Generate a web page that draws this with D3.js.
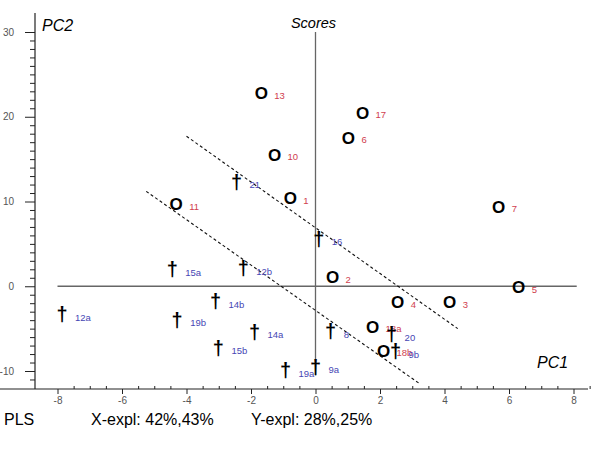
<!DOCTYPE html>
<html><head><meta charset="utf-8">
<script src="https://cdnjs.cloudflare.com/ajax/libs/d3/7.8.5/d3.min.js"></script>
<style>
html,body{margin:0;padding:0;background:#fff;}
svg{display:block;font-family:"Liberation Sans",Arial,sans-serif;}
</style></head>
<body>
<svg id="chart" width="600" height="450"></svg>
<script>
// ---- data ----
const xTicks = [-8, -6, -4, -2, 0, 2, 4, 6, 8];
const yTicks = [-10, 0, 10, 20, 30];

const circleIds = ["13", "17", "6", "10", "1", "11", "7", "2", "4", "3", "5", "18a", "18b"];
const circleX   = [-1.68, 1.46, 1.02, -1.27, -0.78, -4.32, 5.68, 0.53, 2.55, 4.16, 6.30, 1.77, 2.11];
const circleY   = [22.8, 20.5, 17.5, 15.5, 10.4, 9.7, 9.4, 1.06, -1.9, -1.9, -0.1, -4.8, -7.6];

const crossIds = ["21", "16", "15a", "12b", "14b", "12a", "19b", "14a", "15b", "19a", "9a", "8", "20", "9b"];
const crossX   = [-2.45, 0.10, -4.44, -2.24, -3.10, -7.86, -4.29, -1.89, -3.01, -0.93, 0.00, 0.47, 2.36, 2.48];
const crossY   = [12.2, 5.5, 1.9, 2.0, -1.9, -3.4, -4.1, -5.5, -7.4, -10.0, -9.6, -5.4, -5.8, -7.8];

// dashed separating lines [x1, y1, x2, y2] in score units
const dashLineUpper = [-4.0, 17.7, 4.41, -5.0];
const dashLineLower = [-5.25, 11.2, 3.23, -11.5];

const footerTexts = ["PLS", "X-expl: 42%,43%", "Y-expl: 28%,25%"];

// ---- layout ----
const svg = d3.select("#chart");
const x = d3.scaleLinear().domain([-8, 8]).range([57.5, 573.5]);
const y = d3.scaleLinear().domain([-10, 30]).range([371, 32]);
const axisX = 35, axisY = 389;
const fmt = d => String(d);

// left axis
const gl = svg.append("g").attr("transform", `translate(${axisX},0)`);
gl.append("line").attr("x1",0).attr("x2",0).attr("y1",13).attr("y2",axisY).attr("stroke","#222").attr("stroke-width",1.2);
const yMinor = d3.range(-11, 30, 1).filter(v => v % 10 !== 0);
gl.append("g").call(d3.axisLeft(y).tickValues(yMinor).tickSize(5).tickFormat(""))
  .call(s => s.select(".domain").remove()).selectAll("line").attr("stroke","#222");
gl.append("g").call(d3.axisLeft(y).tickValues(yTicks).tickSize(10).tickPadding(11).tickFormat(fmt))
  .call(s => s.select(".domain").remove())
  .call(s => s.selectAll("line").attr("stroke","#222"))
  .call(s => s.selectAll("text").attr("fill","#555").style("font-size","10px").attr("font-family","Liberation Sans, Arial"));

// bottom axis
const gb = svg.append("g").attr("transform", `translate(0,${axisY})`);
gb.append("line").attr("x1",0).attr("x2",588).attr("y1",0).attr("y2",0).attr("stroke","#222").attr("stroke-width",1.2);
const xMinor = d3.range(-7.5, 8.51, 0.5).filter(v => Math.abs(v % 2) > 0.01);
gb.append("g").call(d3.axisTop(x).tickValues(xMinor).tickSize(3).tickFormat(""))
  .call(s => s.select(".domain").remove()).selectAll("line").attr("stroke","#222");
gb.append("g").call(d3.axisBottom(x).tickValues(xTicks).tickSize(5).tickPadding(3).tickFormat(fmt))
  .call(s => s.select(".domain").remove())
  .call(s => s.selectAll("line").attr("stroke","#222"))
  .call(s => s.selectAll("text").attr("fill","#555").style("font-size","10px").attr("font-family","Liberation Sans, Arial"));

// zero lines
svg.append("line").attr("x1", x(-8)).attr("x2", x(8.1)).attr("y1", y(0)).attr("y2", y(0))
  .attr("stroke","#666").attr("stroke-width",1.3);
svg.append("line").attr("x1", x(0)).attr("x2", x(0)).attr("y1", y(30)).attr("y2", y(-10.5))
  .attr("stroke","#666").attr("stroke-width",1.3);

// dashed lines
[dashLineUpper, dashLineLower].forEach(l => {
  svg.append("line").attr("x1", x(l[0])).attr("y1", y(l[1])).attr("x2", x(l[2])).attr("y2", y(l[3]))
    .attr("stroke","#111").attr("stroke-width",1.1).attr("stroke-dasharray","3,2.5");
});

// points
const circles = circleIds.map((id, i) => ({id, x: circleX[i], y: circleY[i]}));
const crosses = crossIds.map((id, i) => ({id, x: crossX[i], y: crossY[i]}));

svg.append("g").selectAll("text").data(circles).join("text")
  .attr("x", d => x(d.x)).attr("y", d => y(d.y)).attr("dy", 6)
  .attr("text-anchor","middle").attr("font-weight","bold").style("font-size","17px")
  .attr("fill","#000").text("O");
svg.append("g").selectAll("text").data(circles).join("text")
  .attr("x", d => x(d.x) + 13).attr("y", d => y(d.y)).attr("dy", 5.5)
  .attr("fill","#d0404e").style("font-size","9.5px").text(d => d.id);

svg.append("g").selectAll("text").data(crosses).join("text")
  .attr("x", d => x(d.x)).attr("y", d => y(d.y)).attr("dy", 6)
  .attr("text-anchor","middle").attr("font-weight","bold").style("font-size","20px")
  .attr("fill","#000").text("\u2020");
svg.append("g").selectAll("text").data(crosses).join("text")
  .attr("x", d => x(d.x) + 13).attr("y", d => y(d.y)).attr("dy", 5.5)
  .attr("fill","#4646b4").style("font-size","9.5px").text(d => d.id);

// titles
svg.append("text").attr("x", 42).attr("y", 31).attr("font-style","italic").style("font-size","16px").attr("fill","#000").text("PC2");
svg.append("text").attr("x", x(0) - 2).attr("y", 28).attr("text-anchor","middle").attr("font-style","italic").style("font-size","14.5px").attr("fill","#000").text("Scores");
svg.append("text").attr("x", 537).attr("y", 368).attr("font-style","italic").style("font-size","16px").attr("fill","#000").text("PC1");

// footer
const footerX = [4, 91, 251];
footerTexts.forEach((t, i) => {
  svg.append("text").attr("x", footerX[i]).attr("y", 425).style("font-size","16px").attr("fill","#000").text(t);
});
</script>
</body></html>
